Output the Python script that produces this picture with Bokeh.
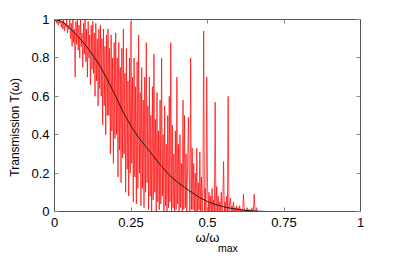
import numpy as np
from bokeh.plotting import figure
from bokeh.models import Range1d, LinearAxis, FixedTicker
from bokeh.embed import file_html
from bokeh.resources import INLINE

# ---- data ----
# smooth (averaged) transmission curve
curve_x = [0.0, 0.025, 0.05, 0.075, 0.1, 0.125, 0.15, 0.175, 0.2, 0.225, 0.25,
           0.275, 0.3, 0.325, 0.35, 0.375, 0.4, 0.425, 0.45, 0.475, 0.5, 0.525,
           0.55, 0.575, 0.6, 0.625, 0.65, 0.675, 0.7, 0.8, 0.9, 1.0]
curve_T = [1.0, 0.99, 0.955, 0.915, 0.87, 0.815, 0.755, 0.68, 0.60, 0.515, 0.445,
           0.385, 0.335, 0.285, 0.235, 0.19, 0.155, 0.125, 0.098, 0.072, 0.052, 0.037,
           0.026, 0.017, 0.011, 0.006, 0.003, 0.001, 0.0, 0.0, 0.0, 0.0]

# noisy single-realisation transmission, sampled every 0.0025 from 0
noisy_dx = 0.0025
noisy_T = [
    1.0, 0.99, 1.0, 0.98, 0.995, 0.97, 1.0, 0.98, 0.99, 0.96,
    0.99, 0.95, 1.0, 0.94, 0.98, 0.96, 1.0, 0.93, 0.97, 0.95,
    1.0, 0.90, 0.98, 0.86, 1.0, 0.88, 0.95, 0.70, 0.99, 0.87,
    1.0, 0.84, 0.97, 0.80, 1.0, 0.86, 0.93, 0.75, 0.98, 0.82,
    1.0, 0.78, 0.95, 0.70, 0.99, 0.80, 0.92, 0.66, 0.97, 0.74,
    0.99, 0.72, 0.93, 0.60, 0.98, 0.68, 0.90, 0.55, 0.95, 0.64,
    0.97, 0.60, 0.90, 0.45, 0.95, 0.55, 0.86, 0.40, 0.92, 0.50,
    0.95, 0.50, 0.85, 0.30, 0.92, 0.42, 0.80, 0.25, 0.88, 0.38,
    0.93, 0.40, 0.80, 0.18, 0.88, 0.32, 0.75, 0.15, 0.85, 0.28,
    0.95, 0.30, 0.72, 0.10, 0.85, 0.22, 0.68, 0.08, 0.80, 0.20,
    0.99, 0.25, 0.70, 0.05, 0.80, 0.18, 0.65, 0.04, 0.78, 0.12,
    0.92, 0.20, 0.62, 0.03, 0.75, 0.12, 0.58, 0.02, 0.70, 0.10,
    0.88, 0.15, 0.55, 0.01, 0.70, 0.08, 0.50, 0.00, 0.65, 0.06,
    0.82, 0.10, 0.48, 0.00, 0.62, 0.05, 0.42, 0.01, 0.58, 0.04,
    0.80, 0.08, 0.40, 0.00, 0.55, 0.03, 0.35, 0.00, 0.50, 0.02,
    0.60, 0.05, 0.88, 0.00, 0.45, 0.02, 0.30, 0.00, 0.42, 0.01,
    0.70, 0.04, 0.35, 0.00, 0.40, 0.02, 0.25, 0.00, 0.58, 0.01,
    0.50, 0.02, 0.30, 0.00, 0.25, 0.49, 0.20, 0.00, 0.80, 0.01,
    0.33, 0.01, 0.25, 0.00, 0.20, 0.00, 0.33, 0.00, 0.15, 0.01,
    0.31, 0.00, 0.18, 0.00, 0.12, 0.94, 0.00, 0.12, 0.00, 0.70,
    0.15, 0.00, 0.10, 0.00, 0.08, 0.00, 0.12, 0.00, 0.06, 0.00,
    0.57, 0.00, 0.13, 0.00, 0.08, 0.00, 0.05, 0.00, 0.10, 0.00,
    0.05, 0.26, 0.00, 0.05, 0.00, 0.08, 0.00, 0.60, 0.00, 0.04,
    0.07, 0.00, 0.03, 0.00, 0.05, 0.00, 0.02, 0.00, 0.03, 0.00,
    0.02, 0.00, 0.03, 0.00, 0.01, 0.00, 0.00, 0.09, 0.02, 0.00,
    0.01, 0.00, 0.02, 0.00, 0.01, 0.00, 0.01, 0.00, 0.02, 0.00,
    0.00, 0.09, 0.01, 0.00, 0.02, 0.00, 0.00, 0.00, 0.00, 0.00,
]
noisy_x = np.arange(len(noisy_T)) * noisy_dx

x_ticks = [0, 0.25, 0.5, 0.75, 1]
x_tick_labels = ["0", "0.25", "0.5", "0.75", "1"]
y_ticks = [0, 0.2, 0.4, 0.6, 0.8, 1]
y_tick_labels = ["0", "0.2", "0.4", "0.6", "0.8", "1"]

x_label = "ω/ω"
x_label_sub = "max"
y_label = "Transmission T(ω)"

FONT = "Liberation Sans"
AX_COL = "#555555"
NB = "\u00a0"

p = figure(width=398, height=256, output_backend="svg", toolbar_location=None,
           x_range=Range1d(0, 1), y_range=Range1d(0, 1),
           x_axis_location=None, y_axis_location=None,
           min_border_left=54, min_border_right=38, min_border_top=19, min_border_bottom=44)
p.grid.visible = False
p.outline_line_color = None
p.background_fill_color = "white"
p.border_fill_color = "white"

p.line(noisy_x, noisy_T, line_color="#ff0000", line_width=0.7)
p.line(curve_x, curve_T, line_color="#1a1a1a", line_width=1)


def make_axis(ticks, labels, show_labels):
    ax = LinearAxis(ticker=FixedTicker(ticks=ticks))
    ax.major_label_overrides = {float(t): l for t, l in zip(ticks, labels)}
    ax.major_tick_in = 4
    ax.major_tick_out = 0
    ax.minor_tick_line_color = None
    ax.axis_line_color = AX_COL
    ax.major_tick_line_color = "#8a8a8a"
    ax.major_label_text_font = FONT
    ax.major_label_text_font_size = "13px"
    ax.axis_label_text_font = FONT
    ax.axis_label_text_font_style = "normal"
    ax.axis_label_text_color = "black"
    if show_labels:
        ax.major_label_text_color = "black"
        ax.major_label_standoff = 5
    else:
        ax.major_label_text_color = None
        ax.major_label_standoff = 0
    return ax


xb = make_axis(x_ticks, x_tick_labels, True)
xb.major_label_standoff = 6
xb.axis_label = x_label
xb.axis_label_text_font_size = "13px"
xb.axis_label_standoff = 0
p.add_layout(xb, "below")

# subscript of the x label, drawn as the label of a tick-less axis just beneath
xs = LinearAxis(ticker=FixedTicker(ticks=[]))
xs.axis_line_color = None
xs.major_tick_line_color = None
xs.minor_tick_line_color = None
xs.axis_label = NB * 14 + x_label_sub
xs.axis_label_text_font = FONT
xs.axis_label_text_font_style = "normal"
xs.axis_label_text_font_size = "10.5px"
xs.axis_label_text_color = "black"
xs.axis_label_standoff = -6
p.add_layout(xs, "below")

yl = make_axis(y_ticks, y_tick_labels, True)
yl.axis_label = y_label + NB * 7
yl.axis_label_text_font_size = "12px"
yl.axis_label_standoff = 6
p.add_layout(yl, "left")

p.add_layout(make_axis(x_ticks, x_tick_labels, False), "above")
p.add_layout(make_axis(y_ticks, y_tick_labels, False), "right")

open("out.html", "w").write(file_html(p, INLINE))
